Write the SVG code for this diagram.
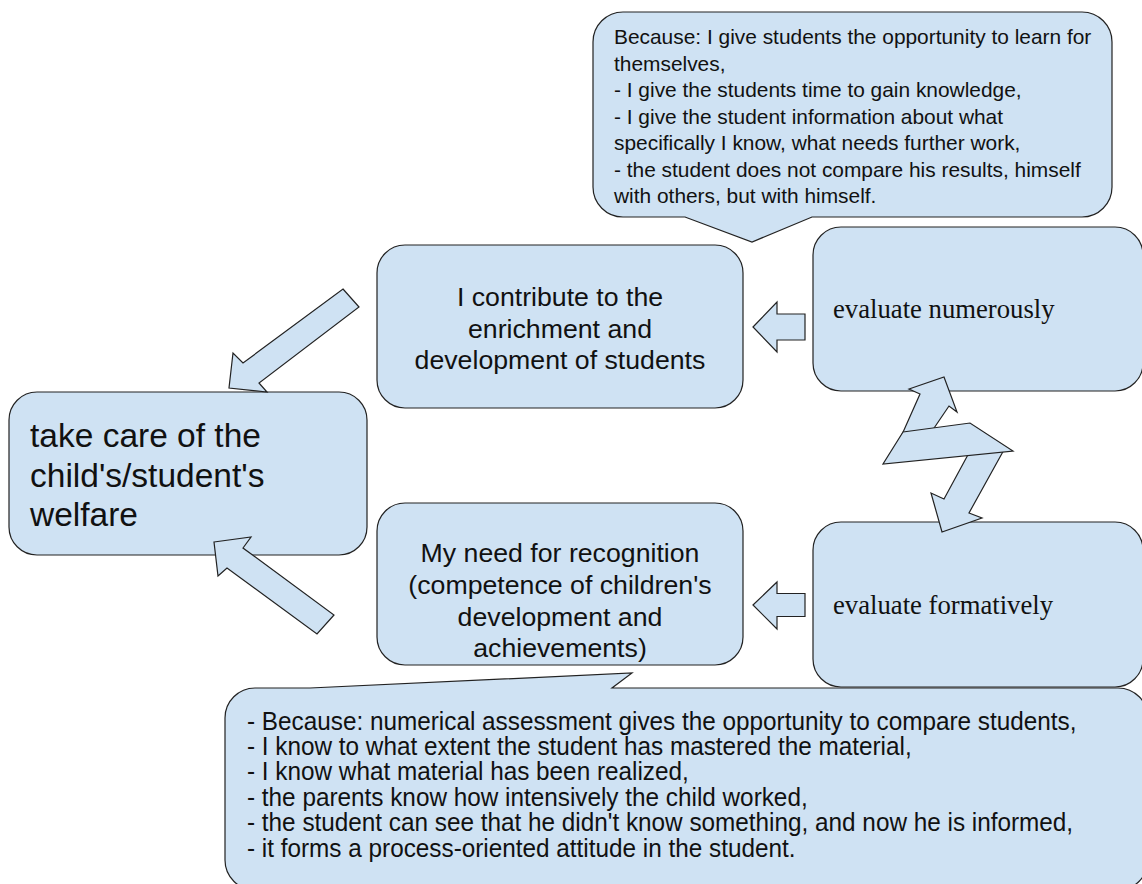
<svg xmlns="http://www.w3.org/2000/svg" width="1142" height="884" viewBox="0 0 1142 884">
<style>
.s{fill:#cfe2f3;stroke:#222;stroke-width:1.2;stroke-linejoin:miter}
.t{font-family:"Liberation Sans",Arial,sans-serif;fill:#111}
.m{font-size:26.7px;text-anchor:middle}
.r{font-family:"Liberation Serif","Times New Roman",serif;font-size:26.7px;fill:#111}
.c{font-size:20.9px}
.b{font-size:25.2px}
</style>
<rect width="1142" height="884" fill="#fff"/>
<g id="callout-top">
<path class="s" d="M623,12 H1082 A30,30 0 0 1 1112,42 V187 A30,30 0 0 1 1082,217 H812 L752,242 L685,217 H623 A30,30 0 0 1 593,187 V42 A30,30 0 0 1 623,12 Z"/>
<text class="t c"><tspan x="614" y="44">Because: I give students the opportunity to learn for</tspan><tspan x="614" y="70.5">themselves,</tspan><tspan x="614" y="97">- I give the students time to gain knowledge,</tspan><tspan x="614" y="123.5">- I give the student information about what</tspan><tspan x="614" y="150">specifically I know, what needs further work,</tspan><tspan x="614" y="176.5">- the student does not compare his results, himself</tspan><tspan x="614" y="203">with others, but with himself.</tspan></text>
</g>
<g id="node-contribute">
<rect class="s" x="377" y="245" width="366" height="163" rx="28"/>
<text class="t m"><tspan x="560" y="306">I contribute to the</tspan><tspan x="560" y="337.5">enrichment and</tspan><tspan x="560" y="369">development of students</tspan></text>
</g>
<g id="node-numerously">
<rect class="s" x="813" y="227" width="330" height="164" rx="28"/>
<text class="r" x="833" y="318">evaluate numerously</text>
</g>
<g id="node-welfare">
<rect class="s" x="9" y="392" width="358" height="163" rx="28"/>
<text class="t" style="font-size:33.5px"><tspan x="30" y="446.5">take care of the</tspan><tspan x="30" y="486.5">child's/student's</tspan><tspan x="30" y="525.5">welfare</tspan></text>
</g>
<g id="node-recognition">
<rect class="s" x="377" y="503" width="366" height="162" rx="28"/>
<text class="t m"><tspan x="560" y="562">My need for recognition</tspan><tspan x="560" y="594">(competence of children's</tspan><tspan x="560" y="626">development and</tspan><tspan x="560" y="657">achievements)</tspan></text>
</g>
<g id="node-formatively">
<rect class="s" x="813" y="522" width="330" height="165" rx="28"/>
<text class="r" x="833" y="614">evaluate formatively</text>
</g>
<g id="callout-bottom">
<path class="s" d="M255,688 H310 L632,673 L612,688 H1118 A30,30 0 0 1 1148,718 V860 A30,30 0 0 1 1118,890 H255 A30,30 0 0 1 225,860 V718 A30,30 0 0 1 255,688 Z"/>
<g transform="translate(247,0) scale(0.965,1)">
<text class="t b"><tspan x="0" y="730">- Because: numerical assessment gives the opportunity to compare students,</tspan><tspan x="0" y="755">- I know to what extent the student has mastered the material,</tspan><tspan x="0" y="780.5">- I know what material has been realized,</tspan><tspan x="0" y="806">- the parents know how intensively the child worked,</tspan><tspan x="0" y="831.5">- the student can see that he didn't know something, and now he is informed,</tspan><tspan x="0" y="857">- it forms a process-oriented attitude in the student.</tspan></text>
</g>
</g>
<g id="connectors">
<polygon class="s" points="343,289 359,307 259,383 267,392 229,388 233,353 243,363"/>
<polygon class="s" points="214,542 251,537 243,548 334,615 317,634 227,568 218,576"/>
<polygon class="s" points="753,327 777,302 777,314 805,314 805,340 777,340 777,352"/>
<polygon class="s" points="753,605 777,582 777,593.5 805,593.5 805,616.5 777,616.5 777,629"/>
<polygon class="s" points="900,439 920,394 909,389 944,377 957,412 949,406 930,434"/>
<polygon class="s" points="970,451 944,499 931,493 942,532 982,518 969,513 1005,448"/>
<polygon class="s" points="903,432 970,423 1013,451 883,464"/>
</g>
</svg>
